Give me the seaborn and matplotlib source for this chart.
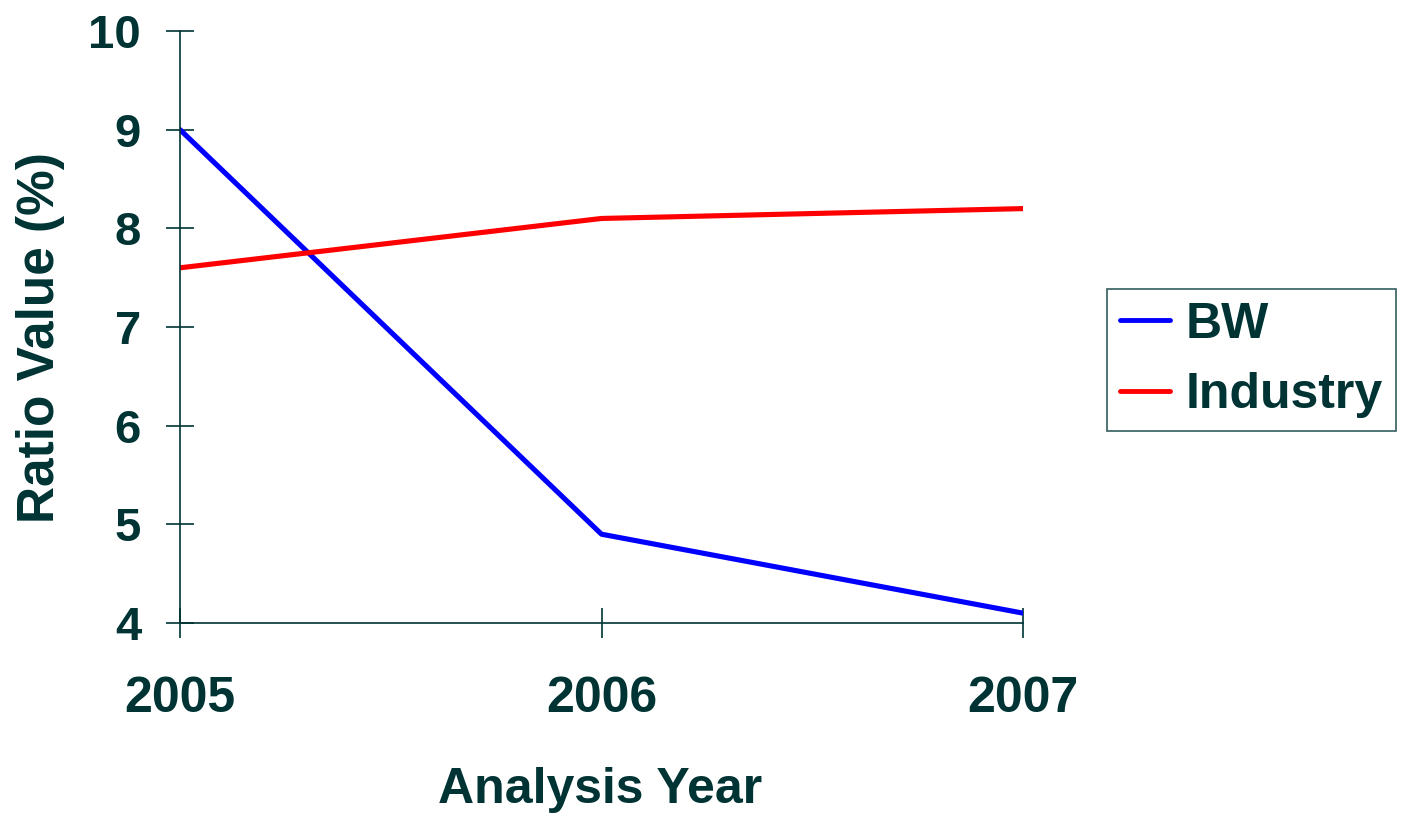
import matplotlib
matplotlib.use("Agg")
import matplotlib.pyplot as plt
import seaborn as sns
import pandas as pd

# Ratio values by analysis year
years = [2005, 2006, 2007]
bw_values = [9.0, 4.9, 4.1]
industry_values = [7.6, 8.1, 8.2]
series_names = ["BW", "Industry"]
series_colors = ["#0000FF", "#FF0000"]
y_ticks = [4, 5, 6, 7, 8, 9, 10]

ink = "#003333"

sns.set_style("white")
plt.rcParams["font.family"] = ["Liberation Sans", "DejaVu Sans"]
plt.rcParams["font.weight"] = "bold"

df = pd.DataFrame({
    "year": years * 2,
    "value": bw_values + industry_values,
    "series": [series_names[0]] * len(years) + [series_names[1]] * len(years),
})

fig = plt.figure(figsize=(14.02, 8.16), dpi=100)
ax = fig.add_axes([180 / 1402, 1 - 623 / 816, (1023 - 180) / 1402, (623 - 31) / 816])

sns.lineplot(data=df, x="year", y="value", hue="series",
             palette=dict(zip(series_names, series_colors)),
             linewidth=3.7, ax=ax, legend=False)

ax.set_xlim(years[0], years[-1])
ax.set_ylim(y_ticks[0], y_ticks[-1])
ax.set_xticks(years)
ax.set_xticklabels([str(y) for y in years])
ax.set_yticks(y_ticks)

for side in ["top", "right"]:
    ax.spines[side].set_visible(False)
for side in ["left", "bottom"]:
    ax.spines[side].set_color(ink)
    ax.spines[side].set_linewidth(1.2)

ax.tick_params(axis="y", left=True, direction="inout", length=20, width=1.2, color=ink,
               labelcolor=ink, labelsize=34, pad=18)
ax.tick_params(axis="x", bottom=True, direction="inout", length=22, width=1.2, color=ink,
               labelcolor=ink, labelsize=36, pad=27)
for lbl in ax.get_xticklabels() + ax.get_yticklabels():
    lbl.set_fontweight("bold")

ax.set_xlabel("Analysis Year", fontsize=36, fontweight="bold", color=ink, va="center")
ax.xaxis.set_label_coords(0.498, -0.282)
ax.set_ylabel("Ratio Value (%)", fontsize=37, fontweight="bold", color=ink, va="center")
ax.yaxis.set_label_coords(-0.166, 0.483)

handles = [plt.Line2D([], [], color=c, linewidth=3.5) for c in series_colors]
leg = fig.legend(handles, series_names, loc="center left",
                 bbox_to_anchor=(1107 / 1402, 1 - 360 / 816),
                 bbox_transform=fig.transFigure, borderaxespad=0,
                 fontsize=36, frameon=True, fancybox=False,
                 handlelength=1.0, handletextpad=0.32, borderpad=0.26,
                 labelspacing=0.49)
leg.get_frame().set_edgecolor(ink)
leg.get_frame().set_linewidth(1.2)
for t in leg.get_texts():
    t.set_color(ink)
    t.set_fontweight("bold")

fig.savefig("out.png", dpi=100, facecolor="white")
